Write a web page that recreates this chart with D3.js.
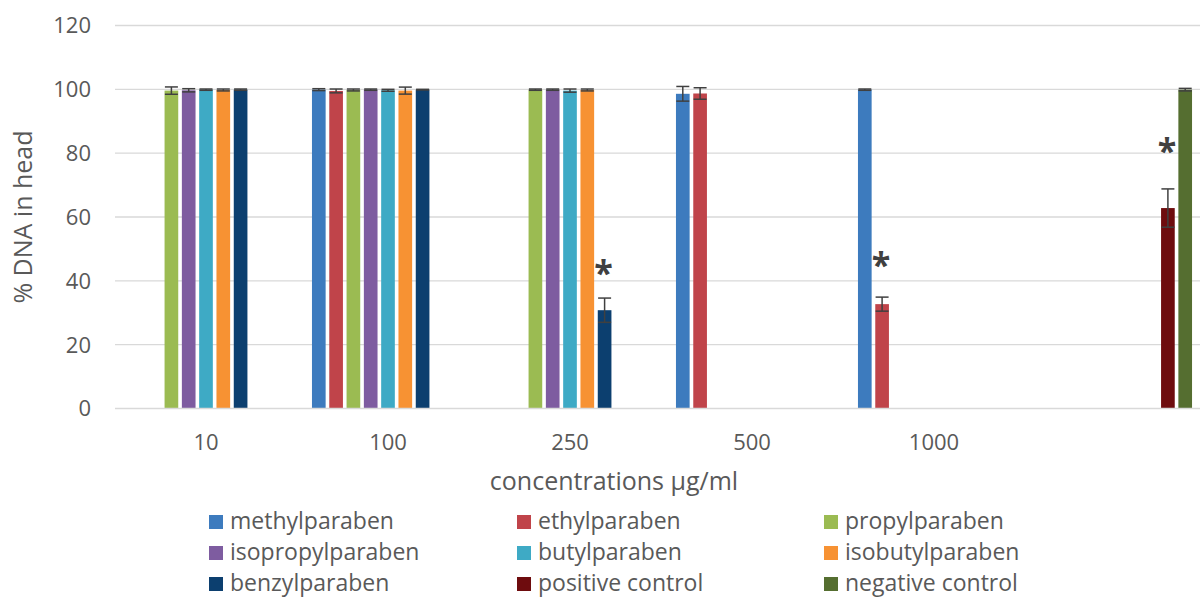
<!DOCTYPE html>
<html>
<head>
<meta charset="utf-8">
<script src="https://cdn.jsdelivr.net/npm/d3@7"></script>
<style>
  html, body { margin: 0; padding: 0; background: #fff; }
  svg { display: block; font-family: "Open Sans", sans-serif; }
</style>
</head>
<body>
<svg id="chart" width="1200" height="597"></svg>
<script>
// ---- data ----
const categories = ["10", "100", "250", "500", "1000", ""];
const seriesNames = ["methylparaben", "ethylparaben", "propylparaben", "isopropylparaben",
  "butylparaben", "isobutylparaben", "benzylparaben", "positive control", "negative control"];
const seriesColors = ["#3D7BBE", "#C0444A", "#9BBB52", "#7E5CA0", "#3EAAC5", "#F79233",
  "#0C3F6F", "#6E0C0E", "#556E30"];

const methylparaben    = [null, 99.9, null, 98.6, 99.9, null];
const ethylparaben     = [null, 99.5, null, 98.7, 32.7, null];
const propylparaben    = [99.6, 99.8, 99.9, null, null, null];
const isopropylparaben = [99.7, 99.9, 99.9, null, null, null];
const butylparaben     = [99.9, 99.7, 99.6, null, null, null];
const isobutylparaben  = [99.8, 99.6, 99.8, null, null, null];
const benzylparaben    = [99.9, 99.9, 30.8, null, null, null];
const positiveControl  = [null, null, null, null, null, 62.8];
const negativeControl  = [null, null, null, null, null, 99.9];

const methylErr    = [null, 0.3, null, 2.3, 0.2, null];
const ethylErr     = [null, 0.6, null, 1.8, 2.2, null];
const propylErr    = [1.15, 0.3, 0.2, null, null, null];
const isopropylErr = [0.5, 0.2, 0.2, null, null, null];
const butylErr     = [0.2, 0.3, 0.5, null, null, null];
const isobutylErr  = [0.3, 1.1, 0.3, null, null, null];
const benzylErr    = [0.2, 0.1, 3.8, null, null, null];
const positiveErr  = [null, null, null, null, null, 6.0];
const negativeErr  = [null, null, null, null, null, 0.4];

const yTicks = [0, 20, 40, 60, 80, 100, 120];

// significance markers: [category, series, y level]
const stars = [["250", "benzylparaben", 44], ["1000", "ethylparaben", 46.4], ["", "positive control", 82.4]];

const allValues = [methylparaben, ethylparaben, propylparaben, isopropylparaben, butylparaben,
  isobutylparaben, benzylparaben, positiveControl, negativeControl];
const allErrs = [methylErr, ethylErr, propylErr, isopropylErr, butylErr, isobutylErr,
  benzylErr, positiveErr, negativeErr];

// ---- layout ----
const svg = d3.select("#chart");
const plotLeft = 115, catStep = 182;
const x = d3.scaleBand().domain(categories).range([plotLeft, plotLeft + catStep * categories.length]).padding(0);
const xs = d3.scaleBand().domain(seriesNames).range([0, x.bandwidth()]).paddingInner(0.21).paddingOuter(0.865);
const y = d3.scaleLinear().domain([0, 120]).range([408.5, 25.5]);
const textColor = "#595959";

// gridlines
svg.append("g").selectAll("line").data(yTicks.filter(t => t > 0)).join("line")
  .attr("x1", plotLeft).attr("x2", 1200)
  .attr("y1", d => y(d)).attr("y2", d => y(d))
  .attr("stroke", "#d9d9d9").attr("stroke-width", 1.3);

// y axis labels
const yAxis = d3.axisLeft(y).tickValues(yTicks).tickSize(0).tickPadding(0);
const gy = svg.append("g").attr("transform", `translate(91,0)`).call(yAxis);
gy.select(".domain").remove();
gy.selectAll("text").attr("fill", textColor).attr("font-size", 22)
  .attr("font-family", "Open Sans, sans-serif").attr("dy", "0.34em");

// bars
const flat = [];
seriesNames.forEach((s, si) => {
  categories.forEach((c, ci) => {
    const v = allValues[si][ci];
    if (v != null) flat.push({ s, c, v, e: allErrs[si][ci], color: seriesColors[si] });
  });
});

svg.append("g").selectAll("rect").data(flat).join("rect")
  .attr("x", d => x(d.c) + xs(d.s))
  .attr("width", xs.bandwidth())
  .attr("y", d => y(d.v))
  .attr("height", d => y(0) - y(d.v))
  .attr("fill", d => d.color);

// x axis line
svg.append("line").attr("x1", plotLeft).attr("x2", 1200)
  .attr("y1", y(0)).attr("y2", y(0))
  .attr("stroke", "#d9d9d9").attr("stroke-width", 1.3);

// error bars
const eb = svg.append("g").attr("stroke", "#404040").attr("stroke-width", 1.5).attr("fill", "none");
const capHalf = 6.5;
flat.forEach(d => {
  const cx = x(d.c) + xs(d.s) + xs.bandwidth() / 2;
  const yt = y(d.v + d.e), yb = y(d.v - d.e);
  eb.append("line").attr("x1", cx).attr("x2", cx).attr("y1", yt).attr("y2", yb);
  eb.append("line").attr("x1", cx - capHalf).attr("x2", cx + capHalf).attr("y1", yt).attr("y2", yt);
  eb.append("line").attr("x1", cx - capHalf).attr("x2", cx + capHalf).attr("y1", yb).attr("y2", yb);
});

// x axis labels
const xAxis = d3.axisBottom(x).tickSize(0).tickPadding(0);
const gx = svg.append("g").attr("transform", `translate(0,450)`).call(xAxis);
gx.select(".domain").remove();
gx.selectAll("text").attr("fill", textColor).attr("font-size", 22)
  .attr("font-family", "Open Sans, sans-serif").attr("dy", 0);

// stars
svg.append("g").selectAll("text").data(stars).join("text")
  .attr("x", d => x(d[0]) + xs(d[1]) + xs.bandwidth() / 2 - 1)
  .attr("y", d => y(d[2]) + 17)
  .attr("text-anchor", "middle")
  .attr("font-size", 34).attr("font-weight", "bold")
  .attr("fill", "#404040")
  .text("*");

// axis titles
svg.append("text").attr("transform", "translate(32,217) rotate(-90)")
  .attr("text-anchor", "middle").attr("font-size", 25).attr("fill", textColor)
  .text("% DNA in head");
svg.append("text").attr("x", 614).attr("y", 490)
  .attr("text-anchor", "middle").attr("font-size", 25).attr("fill", textColor)
  .text("concentrations µg/ml");

// legend
const legCols = [209, 517, 824], legRows = [529, 560, 591];
const lg = svg.append("g").selectAll("g").data(seriesNames).join("g")
  .attr("transform", (d, i) => `translate(${legCols[i % 3]},${legRows[Math.floor(i / 3)]})`);
lg.append("rect").attr("x", 0).attr("y", -14).attr("width", 14).attr("height", 14)
  .attr("fill", (d, i) => seriesColors[i]);
lg.append("text").attr("x", 21).attr("y", 0).attr("font-size", 23).attr("fill", textColor)
  .text(d => d);
</script>
</body>
</html>
